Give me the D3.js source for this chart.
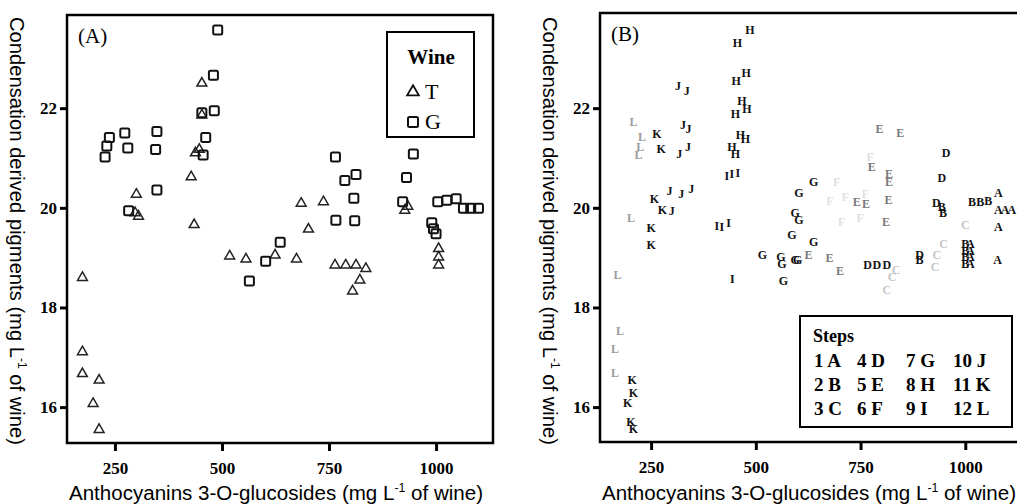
<!DOCTYPE html>
<html><head><meta charset="utf-8">
<script src="https://cdn.jsdelivr.net/npm/d3@7"></script>
<style>body{margin:0;background:#fff}svg{display:block}</style>
</head><body><svg id="c" width="1017" height="504"></svg>
<script>
// ---------- data ----------
const xTicks = [250, 500, 750, 1000];
const yTicks = [16, 18, 20, 22];

// Panel A: wine T (triangles)
const tX = [453,453,438,447,428,300,297,305,435,685,737,702,927,934,518,556,624,174,174,174,213,199,213,674,764,789,813,836,822,805,1006,1006,1006];
const tY = [22.50,21.86,21.10,21.17,20.62,20.27,19.90,19.83,19.66,20.09,20.12,19.57,19.95,20.03,19.03,18.97,19.05,18.60,17.11,16.67,16.54,16.07,15.55,18.97,18.85,18.85,18.85,18.78,18.55,18.33,19.18,19.01,18.85];
// Panel A: wine G (squares)
const gX = [490,480,453,482,237,273,348,231,280,345,227,462,456,348,282,765,947,787,813,931,808,766,810,922,1004,1025,1047,1064,1081,1099,990,994,1000,636,602,564];
const gY = [23.57,22.66,21.91,21.95,21.41,21.50,21.53,21.24,21.20,21.17,21.02,21.41,21.06,20.36,19.94,21.02,21.08,20.55,20.67,20.61,20.19,19.75,19.74,20.12,20.12,20.15,20.18,19.99,19.99,19.99,19.70,19.58,19.48,19.31,18.93,18.53];

// Panel B: points labelled by step letter
const bStep = ["L","L","L","L","L","L","L","L","L",
  "K","K","K","K","K","K","K","K","K","K","K",
  "J","J","J","J","J","J","J","J","J","J",
  "H","H","H","H","H","H","H","H","H","H","H",
  "I","I","I","I","I","I","I",
  "G","G","G","G","G","G","G","G","G","G","G","G",
  "E","E","E","E","E","E","E","E","E","E","E","E",
  "D","D","D","D","D","D","D",
  "B","B","B","B","B","B","B","B","B","B",
  "A","A","A","A","A","A","A","A","A","A",
  "C","C","C","C","C","C","C",
  "F","F","F","F","F","F","F"];
const bX = [208,228,224,220,202,170,176,164,164,
  264,274,258,277,250,250,205,208,194,202,208,
  314,335,326,339,317,338,294,322,346,299,
  486,456,453,477,467,479,451,463,475,443,451,
  431,443,457,407,419,435,444,
  603,594,603,638,586,516,560,562,594,600,566,638,
  795,845,777,818,818,741,763,817,811,626,676,701,
  954,944,931,891,767,789,813,
  944,947,1016,1036,1055,891,1000,1000,1000,1000,
  1012,1012,1012,1012,1079,1079,1095,1111,1079,1077,
  1000,948,932,928,835,825,813,
  693,773,713,677,761,705,749];
const bY = [21.72,21.42,21.22,21.06,19.79,18.65,17.54,17.17,16.68,
  21.49,21.19,20.19,19.97,19.60,19.25,16.55,16.28,16.08,15.70,15.57,
  22.44,22.35,21.66,21.59,21.08,21.22,20.34,20.29,20.39,19.94,
  23.57,23.31,22.54,22.71,22.15,21.99,21.89,21.46,21.39,21.22,21.09,
  20.65,20.69,20.70,19.63,19.62,19.70,18.58,
  20.30,19.89,19.75,20.52,19.45,19.05,19.01,18.88,18.95,18.95,18.53,19.32,
  21.59,21.51,20.82,20.69,20.52,20.12,20.09,20.17,19.72,19.05,19.00,18.73,
  21.10,20.60,20.11,19.05,18.85,18.85,18.85,
  20.03,19.90,20.12,20.12,20.15,18.96,19.27,19.13,19.01,18.88,
  19.27,19.13,19.01,18.88,20.30,19.97,19.97,19.97,19.62,18.96,
  19.65,19.27,19.05,18.81,18.75,18.61,18.35,
  20.52,21.02,20.22,20.15,20.29,19.72,19.79];

const legendRows = [["1 A","4 D","7 G","10 J"],["2 B","5 E","8 H","11 K"],["3 C","6 F","9 I","12 L"]];
const wineLegend = ["T","G"];

// ---------- styles ----------
const stepColor = {A:"#111",B:"#111",C:"#c6c6c6",D:"#111",E:"#7a7a7a",F:"#e0e0e0",G:"#111",H:"#111",I:"#111",J:"#111",K:"#111",L:"#9c9c9c"};
const SERIF = "'Liberation Serif','DejaVu Serif',serif";
const SANS = "'Liberation Sans',Arial,sans-serif";

const svg = d3.select("#c");

function panel(cfg) {
  const x = d3.scaleLinear().domain(cfg.xd).range([cfg.l, cfg.r]);
  const y = d3.scaleLinear().domain(cfg.yd).range([cfg.b, cfg.t]);
  const g = svg.append("g");
  const ax = g.append("g").attr("transform", `translate(0,${cfg.b})`)
    .call(d3.axisBottom(x).tickValues(xTicks).tickSize(8).tickPadding(11).tickFormat(d3.format("d")));
  const ay = g.append("g").attr("transform", `translate(${cfg.l},0)`)
    .call(d3.axisLeft(y).tickValues(yTicks).tickSize(7).tickPadding(3).tickFormat(d3.format("d")));
  [ax, ay].forEach(a => {
    a.select(".domain").remove();
    a.selectAll(".tick line").attr("stroke", "#000").attr("stroke-width", 3);
    a.selectAll(".tick text").attr("fill", "#000").style("font-family", SERIF)
      .style("font-weight", "bold").style("font-size", "17px");
  });
  g.append("rect").attr("x", cfg.l).attr("y", cfg.t).attr("width", cfg.r - cfg.l).attr("height", cfg.b - cfg.t)
    .attr("fill", "none").attr("stroke", "#000").attr("stroke-width", 2.5);
  g.append("text").attr("x", cfg.l + 11).attr("y", cfg.t + 28).text(cfg.label)
    .style("font-family", SERIF).style("font-size", "21px");
  const xt = g.append("text").attr("x", cfg.xtc).attr("y", 500).attr("text-anchor", "middle")
    .attr("textLength", 414).attr("lengthAdjust", "spacingAndGlyphs")
    .style("font-family", SANS).style("font-size", "20px");
  xt.append("tspan").text("Anthocyanins 3-O-glucosides (mg L");
  xt.append("tspan").attr("dy", -8).style("font-size", "12px").text("-1");
  xt.append("tspan").attr("dy", 8).text(" of wine)");
  const yt = g.append("text").attr("transform", `translate(${cfg.ytx},231) rotate(90)`)
    .attr("text-anchor", "middle").attr("textLength", 428).attr("lengthAdjust", "spacingAndGlyphs")
    .style("font-family", SANS).style("font-size", "20px");
  yt.append("tspan").text("Condensation derived pigments (mg L");
  yt.append("tspan").attr("dy", -8).style("font-size", "12px").text("-1");
  yt.append("tspan").attr("dy", 8).text(" of wine)");
  return {g, x, y};
}

// Panel A
const A = panel({l:67, r:493, t:15, b:443, xd:[138,1133], yd:[15.28,23.87], label:"(A)", ytx:10, xtc:276});
const tri = d3.symbol().type(d3.symbolTriangle).size(42);
A.g.append("g").selectAll("path").data(d3.range(tX.length)).join("path")
  .attr("d", tri).attr("transform", i => `translate(${A.x(tX[i])},${A.y(tY[i])})`)
  .attr("fill", "none").attr("stroke", "#222").attr("stroke-width", 1.5);
A.g.append("g").selectAll("rect").data(d3.range(gX.length)).join("rect")
  .attr("x", i => A.x(gX[i]) - 4.5).attr("y", i => A.y(gY[i]) - 4.5).attr("width", 9).attr("height", 9).attr("rx", 1.5)
  .attr("fill", "none").attr("stroke", "#111").attr("stroke-width", 2);
const wl = A.g.append("g");
wl.append("rect").attr("x", 387).attr("y", 32).attr("width", 87).attr("height", 105)
  .attr("fill", "#fff").attr("stroke", "#000").attr("stroke-width", 2);
wl.append("text").attr("x", 431).attr("y", 64).attr("text-anchor", "middle").text("Wine")
  .style("font-family", SERIF).style("font-weight", "bold").style("font-size", "21px");
wineLegend.forEach((w, i) => {
  const cy = 92 + i * 30;
  if (w === "T") wl.append("path").attr("d", d3.symbol().type(d3.symbolTriangle).size(60)).attr("transform", `translate(413,${cy})`)
    .attr("fill", "none").attr("stroke", "#111").attr("stroke-width", 1.8);
  else wl.append("rect").attr("x", 408).attr("y", cy - 5).attr("width", 10).attr("height", 10).attr("rx", 1.5)
    .attr("fill", "none").attr("stroke", "#111").attr("stroke-width", 2);
  wl.append("text").attr("x", 425).attr("y", cy + 7).text(w).style("font-family", SERIF).style("font-size", "22px");
});

// Panel B
const B = panel({l:600, r:1021, t:13, b:442, xd:[128,1133], yd:[15.30,23.91], label:"(B)", ytx:543, xtc:809});
B.g.append("g").selectAll("text").data(d3.range(bStep.length)).join("text")
  .attr("x", i => B.x(bX[i])).attr("y", i => B.y(bY[i])).attr("text-anchor", "middle").attr("dy", "0.35em")
  .attr("fill", i => stepColor[bStep[i]]).text(i => bStep[i])
  .style("font-family", SERIF).style("font-weight", "bold").style("font-size", "12px");
const sl = B.g.append("g");
sl.append("rect").attr("x", 800).attr("y", 316).attr("width", 212).attr("height", 111)
  .attr("fill", "#fff").attr("stroke", "#000").attr("stroke-width", 2);
sl.append("text").attr("x", 813).attr("y", 342).text("Steps")
  .style("font-family", SERIF).style("font-weight", "bold").style("font-size", "18px");
const colX = [814, 857, 906, 953];
legendRows.forEach((row, r) => row.forEach((t, c) => {
  sl.append("text").attr("x", colX[c]).attr("y", 367 + r * 24).text(t)
    .style("font-family", SERIF).style("font-weight", "bold").style("font-size", "19px");
}));
</script>
</body></html>
